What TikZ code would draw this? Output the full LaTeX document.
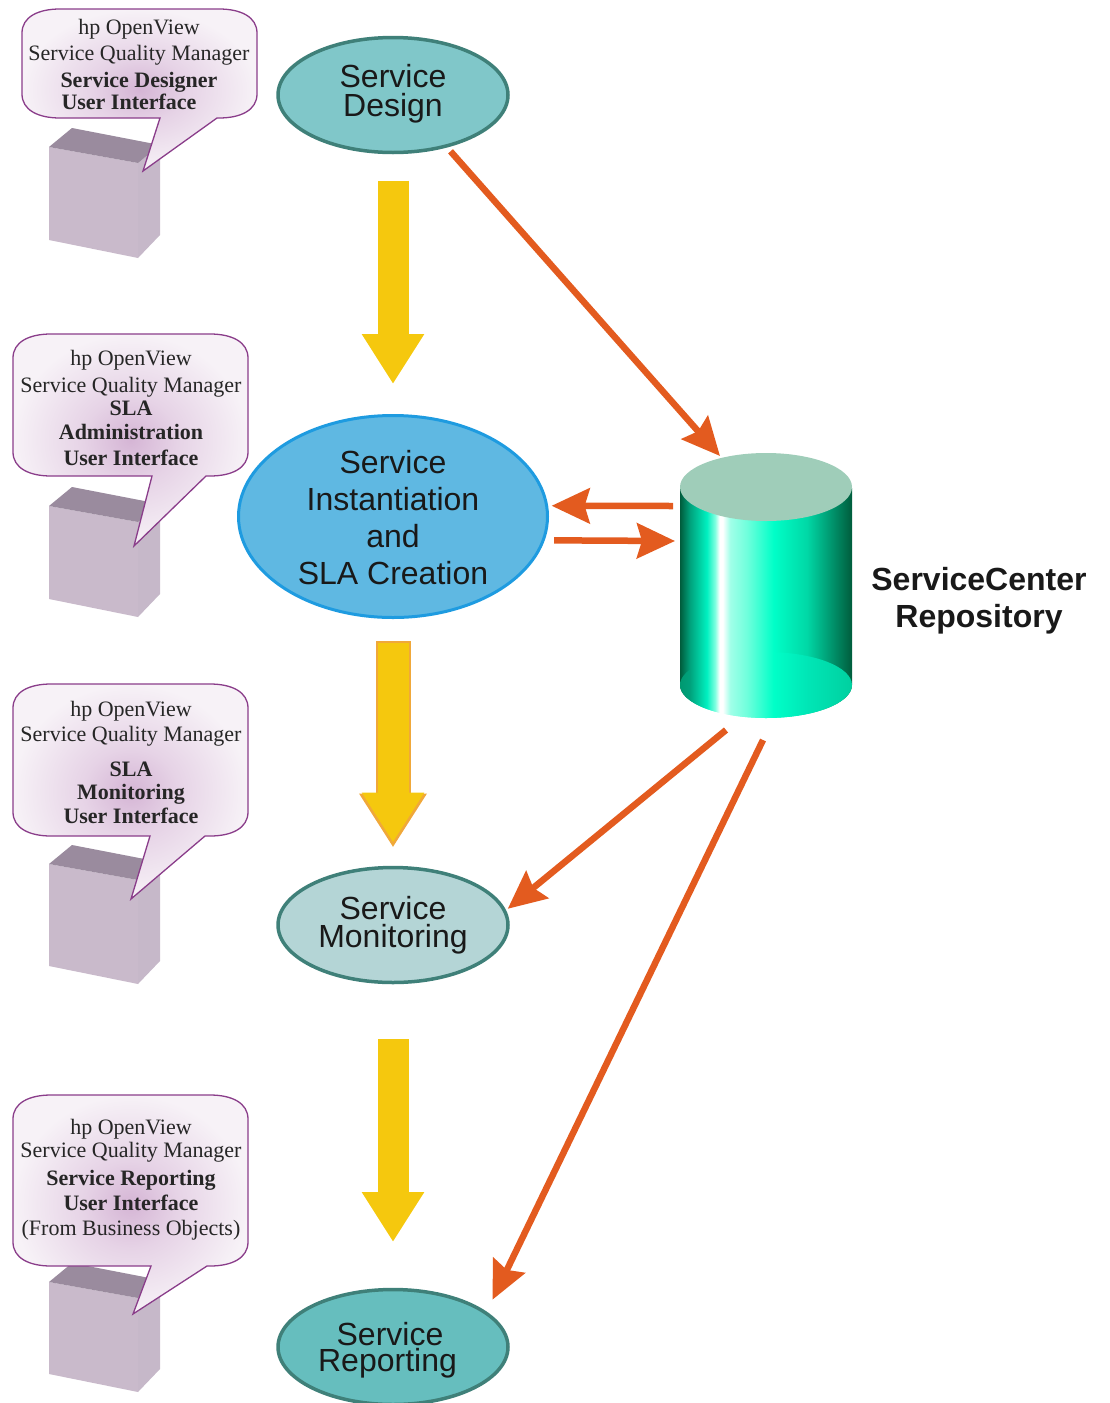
\documentclass[tikz,border=0pt]{standalone}
\usepackage{fontspec}
\setmainfont{Liberation Serif}
\newfontfamily\flowfont{Liberation Sans}
\usetikzlibrary{positioning,shapes.geometric,arrows.meta}

\definecolor{flowdesign}{HTML}{80C7C9}
\definecolor{flowinst}{HTML}{5FB8E2}
\definecolor{flowmon}{HTML}{B4D5D6}
\definecolor{flowrep}{HTML}{66BEBE}
\definecolor{flowedge}{HTML}{3F8079}
\definecolor{instedge}{HTML}{1E9BE0}
\definecolor{blockyellow}{HTML}{F5C80E}
\definecolor{blockrim}{HTML}{F0A83A}
\definecolor{linkorange}{HTML}{E35B1F}
\definecolor{boxtop}{HTML}{9A8B9E}
\definecolor{boxfront}{HTML}{C9BACB}
\definecolor{boxside}{HTML}{C6B8C9}
\definecolor{bubbleline}{HTML}{8A3D8A}
\definecolor{glowa}{HTML}{D5B5D5}
\definecolor{glowb}{HTML}{E6D3E6}
\definecolor{glowc}{HTML}{F7F2F7}
\definecolor{cyla}{HTML}{005C3C}
\definecolor{cylb}{HTML}{00A27C}
\definecolor{cylc}{HTML}{00F0C0}
\definecolor{cyld}{HTML}{80FFE0}
\definecolor{cyle}{HTML}{A0FFE8}
\definecolor{cylf}{HTML}{70FFDC}
\definecolor{cylg}{HTML}{00FFC8}
\definecolor{cylh}{HTML}{00D8A6}
\definecolor{cyli}{HTML}{009870}
\definecolor{cylj}{HTML}{00E6B6}
\definecolor{cylk}{HTML}{00D0A0}
\definecolor{cyltop}{HTML}{9FCDB9}

\pgfdeclarehorizontalshading{cylbody}{100bp}{color(0bp)=(cyla); color(25bp)=(cyla); color(27.9bp)=(cylb); color(32.8bp)=(cylc); color(35.2bp)=(cyld); color(36.5bp)=(white); color(37.4bp)=(white); color(39.6bp)=(cyle); color(44.4bp)=(cylf); color(52.2bp)=(cylg); color(61.9bp)=(cylh); color(68.7bp)=(cyli); color(75bp)=(cyla); color(100bp)=(cyla)}
\pgfdeclarehorizontalshading{cylfloor}{100bp}{color(0bp)=(cyli); color(25bp)=(cyli); color(27.9bp)=(cylb); color(32.8bp)=(cylc); color(35.2bp)=(cyld); color(36.5bp)=(white); color(37.4bp)=(white); color(39.6bp)=(cyle); color(44.4bp)=(cylf); color(52.2bp)=(cylg); color(61.9bp)=(cylj); color(75bp)=(cylk); color(100bp)=(cylk)}
\pgfdeclareradialshading{bubbleglow}{\pgfpointorigin}{color(0bp)=(glowa); color(10bp)=(glowb); color(25bp)=(glowc); color(50bp)=(glowc)}

\tikzset{
  flow/.style={ellipse, draw=flowedge, line width=3.5pt, inner sep=0pt, outer sep=0pt,
    minimum width=230pt, minimum height=115pt, align=center, text=black!90,
    font=\flowfont\fontsize{32}{29}\selectfont},
  flowbig/.style={flow, draw=instedge, line width=3pt, fill=flowinst,
    minimum width=309pt, minimum height=202pt, font=\flowfont\fontsize{32}{37}\selectfont},
  block/.style={line width=31pt, blockyellow, -{Triangle[length=50pt,width=59pt]}},
  blockrimmed/.style={line width=35pt, blockrim, -{Triangle[length=54pt,width=64pt]}},
  link/.style={line width=6.5pt, linkorange, -{Stealth[length=38pt,width=35pt,inset=5pt]}},
  speech/.style={draw=bubbleline, line width=1.3pt, shading=bubbleglow},
  bubbletext/.style={align=center, inner sep=0pt, text=black!85,
    font=\fontsize{22}{24}\selectfont},
}

% one call-out: left, top, right, bottom, tail start, tip x, tip y, tail end
\newcommand{\calloutshape}[8]{%
  \path[speech] (#1,#2+24) .. controls (#1,#2+8) and (#1+16,#2) .. (#1+38,#2)
    -- (#3-38,#2) .. controls (#3-16,#2) and (#3,#2+8) .. (#3,#2+24)
    -- (#3,#4-24) .. controls (#3,#4-8) and (#3-16,#4) .. (#3-38,#4)
    -- (#8,#4) -- (#6,#7) -- (#5,#4) -- (#1+38,#4)
    .. controls (#1+16,#4) and (#1,#4-8) .. (#1,#4-24) -- cycle;}

\begin{document}
\begin{tikzpicture}[x=1pt,y=-1pt]
    \useasboundingbox (0,0) rectangle (1109,1403);

    % Nodes
    \node[flow, fill=flowdesign] (design) at (393,95) {Service\\Design\rule[-9pt]{0pt}{9pt}}; %
    \node[flowbig, below=263pt of design] (inst) {\rule{0pt}{25.4pt}Service\\Instantiation\\and\\SLA Creation}; %
    \node[flow, fill=flowmon, below=250pt of inst] (monitoring) {Service\\[-1pt]Monitoring}; %
    \node[flow, fill=flowrep, below=307pt of monitoring] (reporting) {\rule{0pt}{29pt}Service\hspace*{6pt}\\[-3pt]Reporting\hspace*{11pt}}; %

    % Repository
    \node[minimum width=172pt, minimum height=264pt, inner sep=0pt, outer sep=0pt] (repo) at (766,586) {}; %
    \path[shading=cylbody] (680,488) -- (680,685) arc[start angle=180, end angle=0, x radius=86, y radius=33] -- (852,488) -- cycle;
    \path[shading=cylfloor] (766,685) ellipse[x radius=86, y radius=33];
    \fill[cyltop] (766,487) ellipse[x radius=86, y radius=34];
    \node[align=center, font=\flowfont\bfseries\fontsize{32}{37}\selectfont, text=black!90] (repolabel) at (979,600.5) {ServiceCenter\\Repository}; %

    \coordinate (repoTop) at (720,456);
    \coordinate (repoOut) at (673,506);
    \coordinate (repoIn) at (675,541);
    \coordinate (repoLeft) at (726,730);
    \coordinate (repoDown) at (763,740);

    % Servers
    \foreach \boxy/\boxh in {0/0,359/0,717/9,1135/-1}
    {
      \begin{scope}[shift={(0,\boxy)}]
        \fill[boxfront] (49,147) -- (138,163) -- (138,258+\boxh) -- (49,240+\boxh) -- cycle;
        \fill[boxside] (138,163) -- (160,145) -- (160,235+\boxh) -- (138,258+\boxh) -- cycle;
        \fill[boxtop] (49,147) -- (72,128) -- (160,145) -- (138,163) -- cycle;
      \end{scope}
    }

    % Call-outs
    \calloutshape{22}{9}{257}{118}{160}{143}{171}{217}
    \calloutshape{13}{334}{248}{476}{152}{134}{546}{206}
    \calloutshape{13}{684}{248}{836}{150}{131}{899}{205}
    \calloutshape{13}{1095}{248}{1266}{151}{133}{1314}{207}

    \node[bubbletext] (designer) at (139,64.5) {hp OpenView\\[2pt]Service Quality Manager\\[3pt]\textbf{Service Designer}\\[-2pt]\textbf{User Interface}\hspace*{20pt}}; %
    \node[bubbletext] (admin) at (131,408) {hp OpenView\\[3pt]Service Quality Manager\\[-1pt]\textbf{SLA}\\\textbf{Administration}\\[2pt]\textbf{User Interface}}; %
    \node[bubbletext] (monitor) at (131,762) {hp OpenView\\[1pt]Service Quality Manager\\[11pt]\textbf{SLA}\\[-1pt]\textbf{Monitoring}\\\textbf{User Interface}}; %
    \node[bubbletext] (reports) at (131,1180) {hp OpenView\\[-1pt]Service Quality Manager\\[4pt]\textbf{Service Reporting}\\[1pt]\textbf{User Interface}\\[1pt](From Business Objects)}; %

    % Edges
    \draw[block, shorten <=28pt, shorten >=31.5pt] (design) -- (inst); %
    \draw[blockrimmed, shorten <=23.5pt, shorten >=20pt] (inst) -- (monitoring); %
    \draw[block, shorten <=25.5pt, shorten >=25pt] (inst) -- (monitoring); %
    \draw[block, shorten <=56.5pt, shorten >=47.5pt] (monitoring) -- (reporting); %
    \draw[link, shorten <=7pt] (design.-44.5) -- (repoTop); %
    \draw[link, shorten >=5pt] (repoOut) -- (inst.4.3); %
    \draw[link, shorten <=11pt] (inst.-9.9) -- (repoIn); %
    \draw[link, shorten >=4pt] (repoLeft) -- (monitoring.7.5); %
    \draw[link, shorten >=15pt] (repoDown) -- (reporting.20.5); %
  \end{tikzpicture}
\end{document}
